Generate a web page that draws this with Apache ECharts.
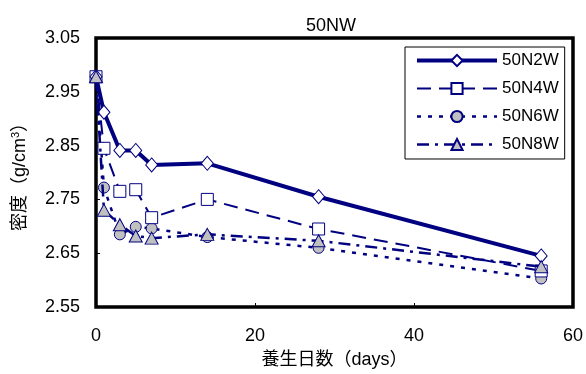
<!DOCTYPE html>
<html>
<head>
<meta charset="utf-8">
<script src="https://cdn.jsdelivr.net/npm/echarts@6/dist/echarts.min.js"></script>
<style>
  html, body { margin: 0; padding: 0; background: #fff; }
  #chart { width: 586px; height: 374px; }
</style>
</head>
<body>
<div id="chart"></div>
<script>
// Curing age (days) and density (g/cm3) for each mix
const days = [0, 1, 3, 5, 7, 14, 28, 56];
const n2w = [2.978, 2.912, 2.841, 2.841, 2.814, 2.817, 2.755, 2.645];
const n4w = [2.978, 2.845, 2.765, 2.768, 2.716, 2.750, 2.695, 2.617];
const n6w = [2.978, 2.772, 2.685, 2.699, 2.696, 2.680, 2.660, 2.603];
const n8w = [2.978, 2.730, 2.703, 2.682, 2.678, 2.685, 2.673, 2.625];
const seriesNames = ['50N2W', '50N4W', '50N6W', '50N8W'];
const yTicks = ['2.55', '2.65', '2.75', '2.85', '2.95', '3.05'];

const NAVY = '#000080';
const GRAY = '#c0c0c0';
const FONT = '"Liberation Sans", Arial, "Noto Sans CJK JP", sans-serif';

function pairs(vals) {
  return days.map((d, i) => [d, vals[i]]);
}

const chart = echarts.init(document.getElementById('chart'), null, { renderer: 'canvas' });

chart.setOption({
  animation: false,
  backgroundColor: '#fff',
  title: {
    text: '50NW',
    left: 301,
    top: 12,
    textStyle: { fontFamily: FONT, fontSize: 18, fontWeight: 'normal', color: '#000' }
  },
  grid: {
    left: 96, right: 13, top: 38, bottom: 63,
    show: true, borderColor: '#000', borderWidth: 3.5, backgroundColor: '#fff'
  },
  legend: {
    data: seriesNames,
    orient: 'vertical',
    left: 405,
    top: 47,
    width: 163,
    padding: [5, 6, 6, 10],
    itemGap: 11,
    itemWidth: 80,
    itemHeight: 14,
    backgroundColor: '#fff',
    borderColor: '#000',
    borderWidth: 1,
    lineStyle: { width: 'inherit' },
    textStyle: { fontFamily: FONT, fontSize: 17, color: '#000', padding: [0, 0, 0, 0] }
  },
  xAxis: {
    type: 'value',
    min: 0, max: 60, interval: 20,
    name: '養生日数（days）',
    nameLocation: 'middle',
    nameGap: 44,
    nameTextStyle: { fontFamily: FONT, fontSize: 18, color: '#000' },
    axisLine: { show: false },
    axisTick: { show: true, inside: true, length: 4, lineStyle: { color: '#000' } },
    splitLine: { show: false },
    axisLabel: { fontFamily: FONT, fontSize: 18, color: '#000', margin: 20 }
  },
  yAxis: {
    type: 'value',
    min: 2.55, max: 3.05, interval: 0.1,
    name: '{a|密度（g/cm}{s|3}{a|）}',
    nameLocation: 'middle',
    nameGap: 66,
    nameRotate: 90,
    nameTextStyle: {
      rich: {
        a: { fontFamily: FONT, fontSize: 18, color: '#000' },
        s: { fontFamily: FONT, fontSize: 11, color: '#000', verticalAlign: 'top', padding: [0, 0, 9, 0] }
      }
    },
    axisLine: { show: false },
    axisTick: { show: true, inside: true, length: 4, lineStyle: { color: '#000' } },
    splitLine: { show: false },
    axisLabel: {
      fontFamily: FONT, fontSize: 18, color: '#000', margin: 16,
      formatter: function (v) {
        const s = v.toFixed(2);
        return yTicks.indexOf(s) >= 0 ? s : '';
      }
    }
  },
  series: [
    {
      name: seriesNames[0], type: 'line', data: pairs(n2w),
      symbol: 'diamond', symbolSize: [12, 14],
      lineStyle: { color: NAVY, width: 4, type: 'solid' },
      itemStyle: { color: '#fff', borderColor: NAVY, borderWidth: 1 },
      z: 5
    },
    {
      name: seriesNames[1], type: 'line', data: pairs(n4w),
      symbol: 'rect', symbolSize: 12,
      lineStyle: { color: NAVY, width: 2, type: [14, 8] },
      itemStyle: { color: '#fff', borderColor: NAVY, borderWidth: 1 },
      z: 4
    },
    {
      name: seriesNames[2], type: 'line', data: pairs(n6w),
      symbol: 'circle', symbolSize: 11,
      lineStyle: { color: NAVY, width: 2.5, type: [4, 7] },
      itemStyle: { color: GRAY, borderColor: NAVY, borderWidth: 1 },
      z: 3
    },
    {
      name: seriesNames[3], type: 'line', data: pairs(n8w),
      symbol: 'triangle', symbolSize: [13, 12],
      lineStyle: { color: NAVY, width: 2.5, type: [12, 6, 3, 6] },
      itemStyle: { color: GRAY, borderColor: NAVY, borderWidth: 1 },
      z: 6
    }
  ]
});
</script>
</body>
</html>
